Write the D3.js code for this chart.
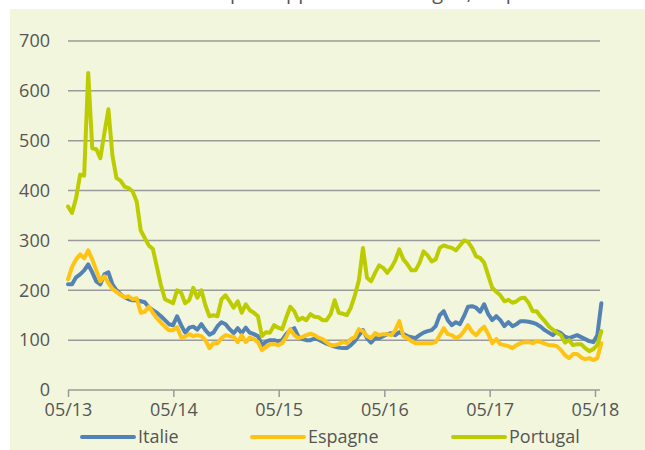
<!DOCTYPE html>
<html>
<head>
<meta charset="utf-8">
<script src="https://cdn.jsdelivr.net/npm/d3@7"></script>
<style>
  html, body { margin: 0; padding: 0; background: #fff; }
  #chart { width: 645px; height: 450px; }
  text { font-family: "Open Sans", sans-serif; fill: #555; }
</style>
</head>
<body>
<div id="chart"></div>
<script>
// spreads, in bp, one point every two weeks starting 05/2013
const startDate = new Date(2013, 4, 1);
const stepDays = 14;

const italie = [212,212,226,232,240,252,236,218,212,232,236,212,200,192,186,182,180,180,178,176,
  166,160,155,148,140,132,130,148,130,115,125,127,121,132,120,111,115,128,136,132,
  122,114,124,114,125,115,112,108,90,97,100,100,98,100,112,120,124,107,102,100,
  100,103,101,97,93,90,87,85,84,84,90,98,110,120,104,95,104,104,108,112,
  114,110,116,112,108,106,104,110,115,118,120,128,150,158,140,130,136,132,148,167,
  168,165,157,172,152,140,148,140,128,136,128,132,138,138,137,135,132,127,120,115,
  110,118,114,107,104,107,110,106,102,98,96,110,174];

const espagne = [222,247,262,272,264,280,262,240,218,228,214,203,197,191,186,188,182,184,155,157,
  167,155,144,135,127,120,120,126,106,107,112,108,110,108,100,84,94,94,104,110,
  108,107,96,110,96,105,102,96,80,86,92,92,90,94,106,122,110,104,106,110,
  113,110,105,102,96,90,90,92,96,94,102,106,122,118,108,104,114,110,112,112,
  110,120,138,108,104,98,94,94,94,94,94,96,110,124,112,110,104,108,118,130,
  117,110,120,127,112,94,102,92,90,88,84,90,94,96,96,94,98,96,93,90,
  90,88,80,70,64,72,72,65,62,64,60,64,94];

const portugal = [368,355,385,432,430,636,485,483,465,515,563,470,425,420,408,405,398,378,320,305,
  290,283,247,210,182,178,174,200,195,174,180,205,185,200,170,148,150,148,182,190,
  178,165,178,155,172,160,155,148,108,116,115,130,125,122,145,167,158,140,145,140,
  152,147,146,140,140,152,180,155,153,150,165,190,220,285,225,218,235,250,245,235,
  245,260,282,262,252,240,240,255,278,270,258,262,285,290,287,285,280,290,300,297,
  285,268,265,255,230,205,197,190,178,181,175,178,184,185,175,158,158,147,138,128,
  121,115,110,95,100,90,92,92,84,78,82,90,118];

const seriesNames = ["Italie", "Espagne", "Portugal"];
const seriesColors = ["#5383b4", "#fec313", "#bccc00"];
const yTicks = [0, 100, 200, 300, 400, 500, 600, 700];
const xTickDates = [2013, 2014, 2015, 2016, 2017, 2018].map(y => new Date(y, 4, 1));
const title = "Écarts de taux à 10 ans par rapport à l'Allemagne, en pb";

const dates = d3.range(italie.length).map(i => d3.timeDay.offset(startDate, i * stepDays));
const series = [italie, espagne, portugal].map((vals, k) => ({
  name: seriesNames[k],
  color: seriesColors[k],
  values: vals.map((v, i) => ({date: dates[i], value: v}))
}));

const width = 645, height = 450;
const svg = d3.select("#chart").append("svg")
  .attr("width", width)
  .attr("height", height);

// panel background
svg.append("rect")
  .attr("x", 10).attr("y", 9)
  .attr("width", width - 10).attr("height", height - 9)
  .attr("fill", "#f2f6dc");

// clipped title above the panel
const titleText = svg.append("text")
  .attr("y", -1)
  .style("font-size", "20px")
  .text(title);
const pIndex = title.indexOf("par");
const offset = titleText.node().getSubStringLength(0, pIndex);
titleText.attr("x", 230 - offset);

const x = d3.scaleTime()
  .domain([xTickDates[0], xTickDates[5]])
  .range([68, 595]);

const y = d3.scaleLinear()
  .domain([0, 700])
  .range([390, 41]);

// gridlines
svg.append("g")
  .selectAll("line")
  .data(yTicks.filter(d => d > 0))
  .join("line")
    .attr("x1", 68).attr("x2", 600)
    .attr("y1", d => y(d)).attr("y2", d => y(d))
    .attr("stroke", "#9a9a9a")
    .attr("stroke-width", 1.5);

// y labels
svg.append("g")
  .selectAll("text")
  .data(yTicks)
  .join("text")
    .attr("x", 50)
    .attr("y", d => y(d))
    .attr("dy", "0.35em")
    .attr("text-anchor", "end")
    .style("font-size", "18px")
    .text(d => d);

// x axis
const xAxis = svg.append("g")
  .attr("transform", "translate(0,390)")
  .call(d3.axisBottom(x)
    .tickValues(xTickDates)
    .tickFormat(d3.timeFormat("%m/%y"))
    .tickSize(7)
    .tickPadding(6));
xAxis.select(".domain")
  .attr("d", "M68,0H600")
  .attr("stroke", "#9a9a9a")
  .attr("stroke-width", 1.5);
xAxis.selectAll(".tick line")
  .attr("stroke", "#9a9a9a")
  .attr("stroke-width", 1.5);
xAxis.selectAll(".tick text")
  .style("font-size", "18px")
  .style("font-family", "Open Sans, sans-serif")
  .attr("fill", "#555");

// lines
const line = d3.line()
  .x(d => x(d.date))
  .y(d => y(d.value));

svg.append("g")
  .selectAll("path")
  .data(series)
  .join("path")
    .attr("d", d => line(d.values))
    .attr("fill", "none")
    .attr("stroke", d => d.color)
    .attr("stroke-width", 4)
    .attr("stroke-linejoin", "round")
    .attr("stroke-linecap", "round");

// legend
const legendX = [82, 252, 453];
const legend = svg.append("g")
  .selectAll("g")
  .data(series)
  .join("g")
    .attr("transform", (d, i) => `translate(${legendX[i]},437)`);
legend.append("line")
  .attr("x1", 0).attr("x2", 52)
  .attr("stroke", d => d.color)
  .attr("stroke-width", 4)
  .attr("stroke-linecap", "round");
legend.append("text")
  .attr("x", 56)
  .attr("dy", "0.35em")
  .style("font-size", "18px")
  .text(d => d.name);
</script>
</body>
</html>
